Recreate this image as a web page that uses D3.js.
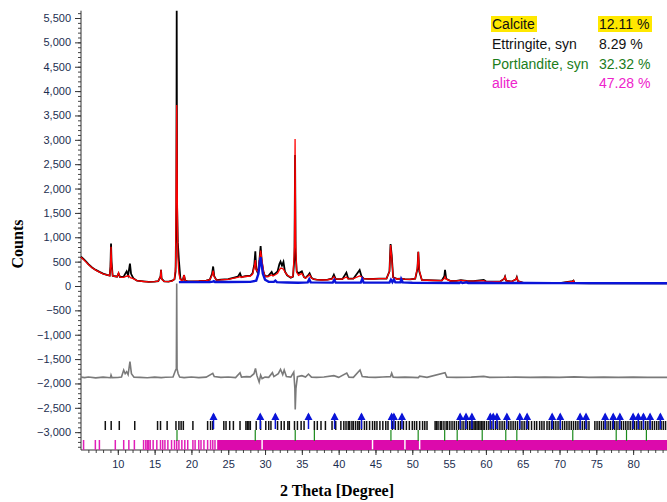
<!DOCTYPE html>
<html>
<head>
<meta charset="utf-8">
<script src="https://cdn.jsdelivr.net/npm/d3@7"></script>
<style>
  body { margin: 0; background: #fff; }
  #chart { width: 667px; height: 502px; }
</style>
</head>
<body>
<div id="chart"></div>
<script>
// ---- data (2 theta in degrees, counts) ----
const observed = [
  [5.0, 600], [5.3, 560], [5.7, 500], [6.0, 450], [6.5, 380], [7.0, 330], [7.5, 290], [8.0, 255], [8.5, 230], [8.9, 215],
  [9.0, 400], [9.08, 870], [9.15, 500], [9.3, 210], [9.6, 200], [9.9, 190], [10.1, 260], [10.3, 185], [10.8, 190], [11.0, 250],
  [11.2, 300], [11.4, 220], [11.65, 460], [11.8, 250], [12.1, 160], [12.6, 110], [13.5, 95], [14.2, 85], [15.0, 90], [15.5, 100],
  [15.8, 200], [15.87, 330], [15.95, 150], [16.3, 95], [16.9, 90], [17.4, 110], [17.7, 140], [17.85, 300], [17.95, 1650], [18.0, 5650],
  [18.05, 1650], [18.15, 900], [18.3, 520], [18.5, 150], [18.8, 110], [19.0, 220], [19.15, 110], [19.5, 95], [20.0, 95], [21.0, 100],
  [22.0, 110], [22.5, 130], [22.8, 250], [22.95, 400], [23.1, 200], [23.4, 120], [24.0, 130], [25.0, 140], [25.8, 170], [26.3, 190],
  [26.6, 260], [26.8, 180], [27.3, 200], [28.0, 210], [28.3, 260], [28.55, 450], [28.68, 710], [28.8, 350], [29.04, 260], [29.25, 550],
  [29.4, 820], [29.55, 500], [29.8, 280], [30.0, 200], [30.4, 200], [30.9, 290], [31.1, 220], [31.4, 260], [31.7, 300], [31.95, 450],
  [32.1, 500], [32.3, 420], [32.5, 495], [32.7, 300], [33.0, 220], [33.5, 170], [33.8, 190], [34.0, 600], [34.08, 2690], [34.15, 700],
  [34.3, 300], [34.55, 260], [35.0, 300], [35.3, 180], [35.5, 165], [35.9, 230], [36.05, 260], [36.3, 170], [36.6, 140], [37.0, 130],
  [37.7, 125], [38.5, 130], [39.1, 150], [39.35, 230], [39.6, 140], [40.5, 140], [41.05, 275], [41.3, 150], [42.0, 150], [42.85, 330],
  [43.1, 200], [43.4, 150], [44.0, 145], [44.7, 145], [45.5, 150], [46.5, 150], [46.9, 300], [47.05, 860], [47.2, 640], [47.4, 180],
  [47.9, 145], [48.5, 150], [49.0, 140], [49.7, 137], [50.4, 150], [50.7, 350], [50.82, 700], [50.95, 300], [51.3, 125], [52.0, 120],
  [53.0, 115], [54.0, 110], [54.35, 200], [54.45, 330], [54.6, 150], [55.2, 103], [56.0, 105], [56.6, 120], [57.4, 103], [58.3, 100],
  [59.7, 123], [60.0, 95], [61.0, 90], [61.9, 88], [62.5, 150], [62.6, 190], [62.75, 110], [63.5, 90], [64.1, 140], [64.2, 180],
  [64.35, 100], [65.1, 62], [66.5, 60], [68.0, 60], [70.0, 58], [71.8, 100], [71.9, 110], [72.05, 60], [74.0, 56], [76.0, 55],
  [78.0, 55], [80.0, 55], [82.0, 55], [84.6, 55]
];

const calculated = [
  [5.0, 590], [5.3, 550], [5.7, 490], [6.0, 440], [6.5, 375], [7.0, 325], [7.5, 285], [8.0, 250], [8.5, 228], [8.9, 213],
  [9.0, 380], [9.08, 807], [9.15, 450], [9.3, 208], [9.6, 198], [9.9, 188], [10.1, 267], [10.3, 183], [10.8, 178], [11.2, 200],
  [11.5, 210], [11.7, 170], [12.1, 150], [12.6, 110], [13.5, 92], [14.2, 85], [15.0, 90], [15.5, 98], [15.8, 200], [15.87, 330],
  [15.95, 140], [16.3, 93], [16.9, 90], [17.4, 105], [17.7, 140], [17.85, 400], [17.95, 2500], [18.0, 3716], [18.05, 2500], [18.15, 600],
  [18.3, 250], [18.5, 130], [18.8, 110], [19.0, 226], [19.15, 110], [19.5, 92], [20.0, 93], [21.0, 100], [22.0, 110], [22.5, 130],
  [22.8, 220], [22.95, 314], [23.1, 190], [23.4, 120], [24.0, 125], [25.0, 137], [25.8, 160], [26.3, 175], [26.6, 191], [26.8, 180],
  [27.3, 195], [28.0, 205], [28.3, 240], [28.55, 400], [28.68, 534], [28.8, 330], [29.04, 290], [29.25, 550], [29.4, 725], [29.55, 560],
  [29.8, 300], [30.0, 191], [30.4, 195], [30.9, 226], [31.1, 210], [31.4, 230], [31.7, 260], [31.95, 330], [32.1, 363], [32.3, 360],
  [32.5, 343], [32.7, 290], [33.0, 226], [33.5, 175], [33.8, 200], [34.0, 800], [34.08, 3016], [34.15, 900], [34.3, 280], [34.55, 220],
  [35.0, 260], [35.3, 180], [35.5, 160], [35.9, 210], [36.05, 230], [36.3, 165], [36.6, 140], [37.0, 130], [37.7, 123], [38.5, 128],
  [39.1, 145], [39.35, 191], [39.6, 140], [40.5, 140], [41.05, 185], [41.3, 145], [42.0, 150], [42.85, 205], [43.1, 190], [43.4, 150],
  [44.0, 145], [44.7, 144], [45.5, 150], [46.5, 150], [46.9, 300], [47.05, 842], [47.2, 600], [47.4, 170], [47.9, 144], [48.5, 150],
  [49.0, 140], [49.7, 137], [50.4, 150], [50.7, 380], [50.82, 704], [50.95, 320], [51.3, 123], [52.0, 118], [53.0, 113], [54.0, 110],
  [54.35, 150], [54.45, 191], [54.6, 140], [55.2, 103], [56.0, 105], [56.6, 115], [57.4, 103], [58.3, 100], [59.7, 110], [60.0, 95],
  [61.0, 90], [61.9, 88], [62.5, 150], [62.6, 191], [62.75, 110], [63.5, 90], [64.1, 140], [64.2, 178], [64.35, 100], [65.1, 62],
  [66.5, 60], [68.0, 60], [70.0, 58], [71.8, 95], [71.9, 109], [72.05, 60], [74.0, 56], [76.0, 55], [78.0, 55], [80.0, 55],
  [82.0, 55], [84.6, 55]
];

// calcite phase profile (blue)
const calciteProfile = [
  [18.3, 80], [22.5, 82], [22.9, 90], [23.05, 100], [23.2, 82], [25.0, 82], [28.0, 85], [28.8, 110], [29.1, 250], [29.3, 500],
  [29.4, 590], [29.5, 480], [29.7, 250], [30.0, 130], [30.5, 85], [31.2, 85], [31.4, 110], [31.6, 80], [33.0, 72], [34.5, 68],
  [35.8, 75], [36.0, 137], [36.2, 75], [39.2, 70], [39.4, 123], [39.6, 70], [43.0, 70], [43.2, 144], [43.4, 70], [46.9, 72],
  [47.1, 130], [47.3, 80], [47.5, 130], [47.7, 75], [48.4, 75], [48.5, 140], [48.7, 75], [50.0, 68], [56.4, 60], [56.6, 80],
  [56.8, 60], [57.4, 75], [57.6, 60], [60.7, 66], [61.4, 62], [63.1, 62], [64.7, 63], [65.6, 60], [69.2, 58], [70.3, 58],
  [84.6, 55]
];

// difference curve (offset below zero)
const difference = [
  [5.0, -1870], [5.5, -1880], [6.0, -1868], [7.0, -1885], [8.0, -1870], [9.0, -1882], [9.08, -1830], [9.2, -1880], [10.0, -1878], [10.5, -1870],
  [10.8, -1725], [11.0, -1800], [11.2, -1760], [11.4, -1820], [11.65, -1554], [11.85, -1800], [12.2, -1870], [13.0, -1876], [14.0, -1882], [15.0, -1870],
  [15.9, -1880], [16.5, -1874], [17.5, -1868], [17.85, -1725], [17.95, -1700], [18.0, 50], [18.05, -1700], [18.2, -1800], [18.4, -1870], [19.0, -1880],
  [20.0, -1868], [21.0, -1880], [22.0, -1870], [22.9, -1793], [23.1, -1860], [24.0, -1875], [25.0, -1868], [26.0, -1880], [26.6, -1780], [26.8, -1870],
  [27.5, -1860], [28.0, -1865], [28.5, -1800], [28.7, -1690], [28.9, -1840], [29.2, -1970], [29.4, -1830], [29.6, -1900], [30.0, -1870], [30.5, -1875],
  [31.0, -1780], [31.2, -1860], [31.8, -1800], [32.1, -1710], [32.4, -1820], [32.6, -1725], [32.9, -1860], [33.5, -1870], [33.9, -1766], [34.05, -2100],
  [34.1, -2532], [34.2, -2100], [34.4, -1860], [35.0, -1840], [35.5, -1870], [35.9, -1807], [36.3, -1870], [37.0, -1876], [38.0, -1868], [39.35, -1840],
  [40.0, -1875], [41.1, -1786], [41.4, -1870], [42.0, -1876], [42.9, -1725], [43.2, -1860], [44.0, -1870], [45.0, -1876], [46.0, -1868], [47.05, -1860],
  [47.2, -1790], [47.4, -1870], [48.0, -1875], [49.0, -1870], [50.0, -1876], [50.82, -1880], [51.0, -1850], [52.0, -1875], [54.45, -1780], [54.7, -1870],
  [56.0, -1876], [58.0, -1870], [59.7, -1855], [60.5, -1875], [62.6, -1872], [64.0, -1870], [66.0, -1876], [68.0, -1870], [70.0, -1875], [72.0, -1865],
  [74.0, -1875], [76.0, -1870], [78.0, -1876], [80.0, -1870], [82.0, -1875], [84.6, -1875]
];

// reflection positions of each phase
const calciteTicks = [23.0, 29.35, 31.4, 35.9, 39.45, 43.1, 47.2, 47.5, 48.6, 56.5, 57.3, 58.1, 60.6, 61.0, 61.5, 62.85,
  64.6, 65.6, 69.0, 70.1, 72.8, 73.6, 76.2, 77.3, 78.2, 80.0, 80.7, 81.4, 82.3, 83.7];

const ettringiteTicks = [8.3, 9.1, 10.2, 12.3, 15.4, 15.8, 16.7, 17.9, 18.3, 18.6, 18.9, 20.2, 22.2, 22.6, 22.9, 24.4, 24.7,
  25.2, 25.7, 26.6, 27.4, 27.6, 27.8, 28.0, 28.8, 29.4, 30.1, 30.5, 30.8, 31.7, 32.2, 32.6, 33.1, 33.3, 34.0, 34.4, 34.9, 35.3,
  36.7, 37.1, 37.6, 38.2, 39.1, 39.6, 40.3, 40.7, 41.0, 41.3, 41.5, 41.8, 42.0, 42.3, 42.6, 42.8, 43.1, 43.5, 43.8, 44.2, 44.6,
  44.9, 45.2, 45.6, 46.0, 46.4, 46.7, 47.3, 47.7, 48.1, 48.4, 48.8, 49.2, 49.6, 50.0, 50.3, 50.6, 51.0, 51.4, 51.7, 52.0, 53.1,
  53.3, 53.5, 53.8, 54.0, 54.3, 54.6, 54.8, 55.1, 55.4, 55.7, 56.0, 56.3, 56.6, 56.9, 57.2, 57.5, 57.8, 58.0, 58.2, 58.4, 58.6,
  58.8, 59.0, 59.2, 59.4, 59.6, 59.8, 60.1, 60.4, 60.7, 61.0, 61.3, 61.6, 61.9, 62.2, 62.5, 62.8, 63.1, 63.4, 63.7, 64.0, 64.3,
  64.6, 64.9, 65.2, 65.5, 65.8, 66.2, 66.6, 66.9, 67.3, 67.6, 67.9, 68.3, 68.6, 68.9, 69.2, 69.5, 69.8, 70.1, 70.4, 70.7, 71.0,
  71.3, 71.6, 71.9, 72.2, 72.5, 72.8, 73.1, 73.4, 73.7, 74.0, 74.8, 75.1, 75.4, 75.7, 76.0, 76.3, 76.6, 76.9, 77.2, 77.5, 77.8,
  78.1, 78.4, 78.7, 79.0, 79.3, 79.6, 79.9, 80.2, 80.5, 80.8, 81.1, 81.4, 81.7, 82.0, 82.3, 82.6, 82.9, 83.2, 83.5, 83.8, 84.1, 84.4];

const portlanditeTicks = [18.04, 28.67, 34.1, 36.7, 47.1, 50.8, 54.4, 56.1, 59.5, 62.7, 64.2, 71.8, 77.7, 79.1, 81.8];

const aliteTicks = [5.35, 6.95, 7.5, 9.66, 10.8, 11.5, 12.25, 13.5, 13.8, 14.0, 14.2, 14.4, 14.8, 15.3, 15.8, 16.1, 16.4,
  16.8, 17.3, 17.7, 18.0, 18.3, 18.7, 19.1, 19.5, 20.2, 20.5, 21.0, 21.3, 21.7, 22.2, 22.6, 22.9, 23.2];
// dense alite reflections form a solid band
const aliteBands = [[23.5, 29.5], [29.7, 44.5], [44.7, 48.9], [49.1, 50.9], [51.1, 84.6]];

const phaseNames = ["Calcite", "Ettringite, syn", "Portlandite, syn", "alite"];
const phasePercents = ["12.11 %", "8.29 %", "32.32 %", "47.28 %"];
const phaseColors = ["#111111", "#111111", "#1b7d1b", "#ee22cc"];

class XrdChart {
    constructor(_parentElement) {
        this.parentElement = _parentElement;
        this.initVis();
    }

    initVis() {
        const vis = this;

        vis.WIDTH = 667;
        vis.HEIGHT = 502;

        vis.svg = d3.select(vis.parentElement).append("svg")
            .attr("width", vis.WIDTH)
            .attr("height", vis.HEIGHT)
            .style("font-family", "'Liberation Sans', Arial, sans-serif");

        vis.x = d3.scaleLinear().domain([5, 84.6]).range([81, 667]);
        vis.y = d3.scaleLinear().domain([-3366, 5650]).range([450, 10.7]);

        vis.drawAxes();
        vis.drawCurves();
        vis.drawTicks();
        vis.drawLegend();
    }

    drawAxes() {
        const vis = this;
        const labelColor = "#1c2e50";

        // minor ticks
        vis.svg.append("g")
            .attr("transform", "translate(81,0)")
            .call(d3.axisLeft(vis.y).tickValues(d3.range(-3300, 5601, 100)).tickSize(3).tickFormat(""))
            .call(g => g.select(".domain").remove())
            .selectAll("line").attr("stroke", "#444");

        vis.svg.append("g")
            .attr("transform", "translate(0,450)")
            .call(d3.axisBottom(vis.x).tickValues(d3.range(6, 85, 1)).tickSize(3).tickFormat(""))
            .call(g => g.select(".domain").remove())
            .selectAll("line").attr("stroke", "#444");

        // major ticks
        const yAxis = vis.svg.append("g")
            .attr("transform", "translate(81,0)")
            .call(d3.axisLeft(vis.y).tickValues(d3.range(-3000, 5501, 500)).tickSize(6).tickPadding(4)
                .tickFormat(d3.format(",")));
        yAxis.select(".domain").attr("stroke", "#333").attr("d", `M0,${vis.y(5650)}V450`);
        yAxis.selectAll("line").attr("stroke", "#333");
        yAxis.selectAll("text").attr("fill", labelColor).style("font-size", "11px");

        const xAxis = vis.svg.append("g")
            .attr("transform", "translate(0,450)")
            .call(d3.axisBottom(vis.x).tickValues(d3.range(10, 81, 5)).tickSize(5).tickPadding(5));
        xAxis.select(".domain").attr("stroke", "#333").attr("d", "M81,0H667");
        xAxis.selectAll("line").attr("stroke", "#333");
        xAxis.selectAll("text").attr("fill", labelColor).style("font-size", "11px");

        // titles
        vis.svg.append("text")
            .attr("x", 337)
            .attr("y", 496)
            .attr("text-anchor", "middle")
            .style("font-family", "'Liberation Serif', 'Times New Roman', serif")
            .style("font-weight", "bold")
            .style("font-size", "16px")
            .text("2 Theta [Degree]");

        vis.svg.append("text")
            .attr("transform", "translate(23,244) rotate(-90)")
            .attr("text-anchor", "middle")
            .style("font-family", "'Liberation Serif', 'Times New Roman', serif")
            .style("font-weight", "bold")
            .style("font-size", "16px")
            .text("Counts");
    }

    drawCurves() {
        const vis = this;
        const line = d3.line().x(d => vis.x(d[0])).y(d => vis.y(d[1]));

        vis.svg.append("path").datum(difference)
            .attr("d", line).attr("fill", "none")
            .attr("stroke", "#7a7a7a").attr("stroke-width", 1.6);

        vis.svg.append("path").datum(observed)
            .attr("d", line).attr("fill", "none")
            .attr("stroke", "#000").attr("stroke-width", 1.8);

        vis.svg.append("path").datum(calculated)
            .attr("d", line).attr("fill", "none")
            .attr("stroke", "#ff0000").attr("stroke-width", 1.3);

        vis.svg.append("path").datum(calciteProfile)
            .attr("d", line).attr("fill", "none")
            .attr("stroke", "#0a14d8").attr("stroke-width", 2.4);
    }

    drawTicks() {
        const vis = this;

        // alite
        vis.svg.append("g").selectAll("rect")
            .data(aliteBands)
            .join("rect")
            .attr("x", d => vis.x(d[0]))
            .attr("width", d => vis.x(d[1]) - vis.x(d[0]))
            .attr("y", 440)
            .attr("height", 10)
            .attr("fill", "#dc0aac");

        vis.svg.append("g").selectAll("line")
            .data(aliteTicks)
            .join("line")
            .attr("x1", d => vis.x(d)).attr("x2", d => vis.x(d))
            .attr("y1", 440).attr("y2", 450)
            .attr("stroke", "#e020b8").attr("stroke-width", 1.5);

        // ettringite
        vis.svg.append("g").selectAll("line")
            .data(ettringiteTicks)
            .join("line")
            .attr("x1", d => vis.x(d)).attr("x2", d => vis.x(d))
            .attr("y1", 421).attr("y2", 430)
            .attr("stroke", "#111").attr("stroke-width", 1.5);

        // portlandite
        vis.svg.append("g").selectAll("line")
            .data(portlanditeTicks)
            .join("line")
            .attr("x1", d => vis.x(d)).attr("x2", d => vis.x(d))
            .attr("y1", 430).attr("y2", 441)
            .attr("stroke", "#1b8a1b").attr("stroke-width", 1.2);

        // calcite markers
        const cal = vis.svg.append("g").selectAll("g")
            .data(calciteTicks)
            .join("g")
            .attr("transform", d => `translate(${vis.x(d)},0)`);
        cal.append("line")
            .attr("y1", 414).attr("y2", 429)
            .attr("stroke", "#0a14d8").attr("stroke-width", 1.5);
        cal.append("path")
            .attr("d", "M0,412.5L4,420L-4,420Z")
            .attr("fill", "#0a14d8");
    }

    drawLegend() {
        const vis = this;
        const rowY = [29, 49, 69, 88];

        vis.svg.append("rect").attr("x", 491).attr("y", 16).attr("width", 46).attr("height", 16).attr("fill", "#ffe800");
        vis.svg.append("rect").attr("x", 598).attr("y", 16).attr("width", 54).attr("height", 16).attr("fill", "#ffe800");

        const legend = vis.svg.append("g").style("font-size", "14px");
        legend.selectAll(".pname")
            .data(phaseNames)
            .join("text")
            .attr("class", "pname")
            .attr("x", 492)
            .attr("y", (d, i) => rowY[i])
            .attr("fill", (d, i) => phaseColors[i])
            .text(d => d);
        legend.selectAll(".ppct")
            .data(phasePercents)
            .join("text")
            .attr("class", "ppct")
            .attr("x", 599)
            .attr("y", (d, i) => rowY[i])
            .attr("fill", (d, i) => phaseColors[i])
            .text(d => d);
    }
}

new XrdChart("#chart");
</script>
</body>
</html>
